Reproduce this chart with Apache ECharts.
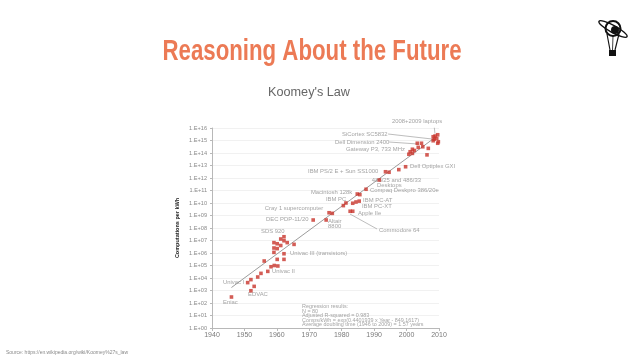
<!DOCTYPE html>
<html><head><meta charset="utf-8">
<script src="https://cdn.jsdelivr.net/npm/echarts@6/dist/echarts.min.js"></script>
<style>html,body{margin:0;padding:0;background:#fff}#c{width:640px;height:360px}</style>
</head><body><div id="c"></div>
<script>
// Koomey's law: computations per kWh (log10) by year
const pointYears = [1946.0,1951.0,1952.0,1952.0,1953.0,1954.1,1955.1,1956.1,1957.2,1958.2,1959.2,1960.3,1960.1,1962.2,1962.2,1959.1,1959.1,1960.1,1960.1,1961.2,1959.1,1961.2,1962.2,1962.2,1963.2,1965.3,1971.2,1975.2,1976.1,1977.1,1980.5,1981.3,1982.6,1983.4,1983.4,1984.4,1985.4,1984.8,1985.6,1987.5,1991.6,1993.5,1994.6,1997.6,1999.7,2000.7,2001.1,2001.8,2001.8,2002.4,2003.6,2003.3,2004.6,2005.0,2006.7,2006.3,2008.2,2008.2,2008.5,2008.8,2009.3,2009.6,2009.8,2009.6];
const pointLog10 = [2.48,3.63,2.98,3.87,3.33,4.08,4.37,5.36,4.53,4.90,5.00,4.96,5.49,5.49,5.94,6.05,6.40,6.35,6.74,6.60,6.83,7.12,7.30,6.98,6.83,6.69,8.64,8.64,9.22,9.17,9.79,10.00,9.34,9.34,9.98,10.08,10.15,10.72,10.67,11.10,11.84,12.50,12.46,12.67,12.90,13.90,14.10,13.97,14.30,14.20,14.45,14.78,14.78,14.50,14.37,13.85,14.98,15.30,15.10,15.36,15.17,14.78,14.90,15.46];

const regressionYears = [1946, 2009];
const regressionLog10 = [3.24, 15.28];

const xTickYears = [1940,1950,1960,1970,1980,1990,2000,2010];
const yTickLabels = ['1.E+00','1.E+01','1.E+02','1.E+03','1.E+04','1.E+05','1.E+06','1.E+07','1.E+08','1.E+09','1.E+10','1.E+11','1.E+12','1.E+13','1.E+14','1.E+15','1.E+16'];

const noteTexts = ['2008+2009 laptops','SiCortex SC5832','Dell Dimension 2400','Gateway P3, 733 MHz','Dell Optiplex GXI','IBM PS/2 E + Sun SS1000','486/25 and 486/33','Desktops','Compaq Deskpro 386/20e','Macintosh 128k','IBM PC','IBM PC-AT','Cray 1 supercomputer','IBM PC-XT','Apple IIe','DEC PDP-11/20','Altair','8800','Commodore 64','SDS 920','Univac III (transistors)','Univac II','Univac I','EDVAC','Eniac'];
const noteYears = [1995.5,1980.1,1977.9,1981.3,2001.05,1969.6,1989.3,1990.9,1988.7,1970.5,1975.15,1986.6,1956.3,1986.25,1985.0,1956.65,1975.8,1975.8,1991.5,1955.1,1964.05,1958.5,1943.4,1951.1,1943.4];
const noteLog10 = [16.5,15.52,14.86,14.32,12.9,12.56,11.78,11.38,11.02,10.88,10.32,10.24,9.58,9.7,9.18,8.72,8.5,8.16,7.84,7.76,5.94,4.5,3.66,2.72,2.02];

const regressionNotes = ['Regression results:','N = 80','Adjusted R-squared = 0.983','Comps/kWh = exp(0.4401939 x Year - 849.1617)','Average doubling time (1946 to 2009) = 1.57 years'];
const regressionNoteYear = 1967.75;
const regressionNoteLog10 = [1.70,1.34,0.96,0.62,0.26];

const leaderFromYears = [2008.45,1994.3,1994.6,1982.55];
const leaderFromLog10 = [16.32,15.52,14.88,9.12];
const leaderToYears = [2008.76,2007.85,2003.5,1990.9];
const leaderToLog10 = [15.55,15.12,14.72,7.92];

const titleText = 'Reasoning About the Future';
const subtitleText = "Koomey's Law";
const sourceText = 'Source: https://en.wikipedia.org/wiki/Koomey%27s_law';

function measure(t, font){const c=document.createElement('canvas').getContext('2d');c.font=font;return c.measureText(t).width;}
const titleFont = 'bold 29px "Liberation Sans", Arial, sans-serif';
const subFont = '13.5px "Liberation Sans", Arial, sans-serif';
const titleScale = 299 / measure(titleText, titleFont);
const subScale = 82 / measure(subtitleText, subFont);

const chart = echarts.init(document.getElementById('c'), null, {renderer:'canvas'});
const pts = pointYears.map((y,i)=>[y, pointLog10[i]]);
const notes = noteTexts.map((t,i)=>({name:t, value:[noteYears[i], noteLog10[i]]}));
const rnotes = regressionNotes.map((t,i)=>({name:t, value:[regressionNoteYear, regressionNoteLog10[i]]}));
const leaders = leaderFromYears.map((y,i)=>({coords:[[y, leaderFromLog10[i]],[leaderToYears[i], leaderToLog10[i]]]}));

chart.setOption({
  animation:false,
  backgroundColor:'#fff',
  grid:{left:212,right:201,top:128,bottom:32},
  xAxis:{type:'value',min:1940,max:2010,interval:10,
    axisLine:{lineStyle:{color:'#b8b8b8',width:1}},
    axisTick:{show:true,length:3,lineStyle:{color:'#b8b8b8'}},
    axisLabel:{color:'#7a7a7a',fontSize:7,margin:4,fontFamily:'Liberation Sans',
      formatter:v=>xTickYears.includes(v)?String(v):''},
    splitLine:{show:false}},
  yAxis:{type:'value',min:0,max:16,interval:1,
    name:'Computations per kWh',nameLocation:'middle',nameGap:32,nameRotate:90,
    nameTextStyle:{fontSize:5.5,fontWeight:'bold',color:'#222',fontFamily:'Liberation Sans'},
    axisLine:{show:true,lineStyle:{color:'#b8b8b8',width:1}},
    axisTick:{show:true,length:2,lineStyle:{color:'#b8b8b8'}},
    axisLabel:{formatter:v=>yTickLabels[v]||'',fontSize:5.6,color:'#8a8a8a',margin:5,fontFamily:'Liberation Sans'},
    splitLine:{show:true,lineStyle:{color:'#eeeeee',width:0.8}}},
  series:[
    {type:'line',data:regressionYears.map((y,i)=>[y,regressionLog10[i]]),symbol:'none',
      lineStyle:{color:'#9c9c9c',width:1},z:2,silent:true},
    {type:'lines',coordinateSystem:'cartesian2d',data:leaders,
      lineStyle:{color:'#a0a0a0',width:0.7,opacity:1},z:2,silent:true},
    {type:'scatter',data:pts,symbol:'rect',symbolSize:3.6,
      itemStyle:{color:'#c8352c'},z:4,silent:true},
    {type:'scatter',data:notes,symbolSize:0,clip:false,silent:true,z:3,
      label:{show:true,position:'right',distance:0,formatter:'{b}',fontSize:5.9,color:'#8c8c8c',fontFamily:'Liberation Sans'}},
    {type:'scatter',data:rnotes,symbolSize:0,clip:false,silent:true,z:3,
      label:{show:true,position:'right',distance:0,formatter:'{b}',fontSize:5.4,color:'#8c8c8c',fontFamily:'Liberation Sans'}}
  ],
  graphic:[
    {type:'text',x:312,y:52,scaleX:titleScale,style:{text:titleText,font:titleFont,fill:'#ec7a55',align:'center',verticalAlign:'middle'}},
    {type:'text',x:309,y:92,scaleX:subScale,style:{text:subtitleText,font:subFont,fill:'#666666',align:'center',verticalAlign:'middle'}},
    {type:'text',x:6,y:353,style:{text:sourceText,font:'5px "Liberation Sans"',fill:'#8a8a8a',align:'left',verticalAlign:'middle'}},
    // logo: balloon-planet
    {type:'group',children:[
      {type:'line',shape:{x1:607,y1:34,x2:610,y2:50},style:{stroke:'#111',lineWidth:1.2}},
      {type:'line',shape:{x1:619,y1:34,x2:615,y2:50},style:{stroke:'#111',lineWidth:1.2}},
      {type:'line',shape:{x1:613,y1:36,x2:612.5,y2:50},style:{stroke:'#111',lineWidth:0.8}},
      {type:'rect',shape:{x:609,y:50,width:7,height:6},style:{fill:'#111'}},
      {type:'circle',shape:{cx:613,cy:28.5,r:7.5},style:{fill:'#fff',stroke:'#111',lineWidth:2}},
      {type:'circle',shape:{cx:615,cy:30,r:4},style:{fill:'#111'}},
      {type:'ellipse',shape:{cx:613,cy:29,rx:16,ry:3.5},rotation:-0.5,originX:613,originY:29,style:{fill:'none',stroke:'#111',lineWidth:1.4}}
    ]}
  ]
});
</script></body></html>
